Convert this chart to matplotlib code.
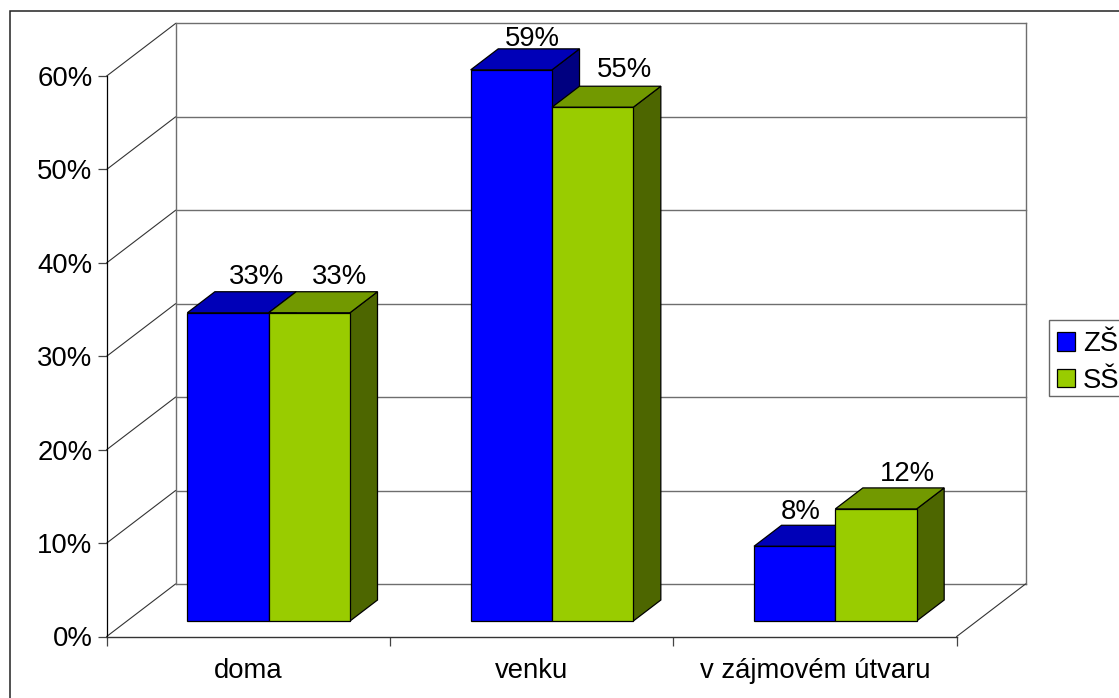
import matplotlib
matplotlib.use('Agg')
import matplotlib.pyplot as plt
from matplotlib.patches import Polygon, Rectangle, Patch

plt.rcParams['font.family'] = ['Liberation Sans', 'DejaVu Sans']

categories = ['doma', 'venku', 'v zájmovém útvaru']
zs_values = [0.33, 0.59, 0.08]
ss_values = [0.33, 0.55, 0.12]
y_ticks = [0, 0.1, 0.2, 0.3, 0.4, 0.5, 0.6]
y_labels = ['0%', '10%', '20%', '30%', '40%', '50%', '60%']

W, H = 1119, 698
FONT = 19.8

# oblique projection: a point at depth d (0 front, 1 back wall) gets shifted
DX = 68.8 / 283.3
DY = 0.0562
BAR_W = 0.287
BAR_D0 = 0.295
BAR_D1 = 0.695


def shift(x, y, d):
    return (x + DX * d, y + DY * d)


def bar3d(ax, x0, val, front, top, side):
    x1 = x0 + BAR_W
    face = [shift(x0, 0, BAR_D0), shift(x1, 0, BAR_D0), shift(x1, val, BAR_D0), shift(x0, val, BAR_D0)]
    tp = [shift(x0, val, BAR_D0), shift(x1, val, BAR_D0), shift(x1, val, BAR_D1), shift(x0, val, BAR_D1)]
    sd = [shift(x1, 0, BAR_D0), shift(x1, 0, BAR_D1), shift(x1, val, BAR_D1), shift(x1, val, BAR_D0)]
    for pts, col in [(sd, side), (tp, top), (face, front)]:
        ax.add_patch(Polygon(pts, closed=True, facecolor=col, edgecolor='black',
                             linewidth=0.9, clip_on=False, zorder=3))


fig = plt.figure(figsize=(W / 100, H / 100), dpi=100, facecolor='white')
ax = fig.add_axes([106.7 / W, (H - 636.5) / H, 850 / W, 560.5 / H])
ax.set_xlim(0, 3)
ax.set_ylim(0, 0.6)
ax.patch.set_alpha(0)

# chart frame, runs off the image on the right and at the bottom
fig.add_artist(Rectangle((10 / W, -0.1), 1.2, (H - 11) / H + 0.1, transform=fig.transFigure,
                         fill=False, edgecolor='#222222', linewidth=1.1))

# walls and floor
wall = '#6e6e6e'
for v in y_ticks:
    a = shift(0, v, 1)
    b = shift(3, v, 1)
    ax.plot([a[0], b[0]], [a[1], b[1]], color=wall, lw=1.0, clip_on=False, zorder=1)
    ax.plot([0, a[0]], [v, a[1]], color='#333333', lw=0.8, clip_on=False, zorder=1)
for xv in [0, 3]:
    a = shift(xv, 0, 1)
    b = shift(xv, 0.6, 1)
    ax.plot([a[0], b[0]], [a[1], b[1]], color=wall, lw=1.0, clip_on=False, zorder=1)
a = shift(3, 0, 1)
ax.plot([3, a[0]], [0, a[1]], color='#333333', lw=0.8, clip_on=False, zorder=1)

# bars
nudge_zs = [(28.5, 29), (21, 24), (6, 27)]
nudge_ss = [(30, 29), (32, 30.5), (31, 28)]
for i in range(len(categories)):
    center = i + 0.5
    x0 = center - BAR_W
    bar3d(ax, x0, zs_values[i], '#0000ff', '#0000b8', '#000080')
    bar3d(ax, center, ss_values[i], '#99cc00', '#729900', '#4d6600')
    for xc, val, nd in [(x0 + BAR_W / 2, zs_values[i], nudge_zs[i]),
                        (center + BAR_W / 2, ss_values[i], nudge_ss[i])]:
        ax.annotate('%d%%' % round(val * 100), xy=shift(xc, val, BAR_D0),
                    xytext=(nd[0] * 0.72, nd[1] * 0.72), textcoords='offset points',
                    ha='center', va='baseline', fontsize=FONT, color='black',
                    annotation_clip=False, zorder=4)

# axes
for s in ['top', 'right']:
    ax.spines[s].set_visible(False)
ax.spines['left'].set_linewidth(0.9)
ax.spines['bottom'].set_linewidth(1.0)
ax.spines['bottom'].set_color('#333333')
ax.set_yticks(y_ticks)
ax.set_yticklabels(y_labels, fontsize=FONT)
ax.set_xticks([0, 1, 2, 3])
ax.set_xticklabels([])
ax.set_xticks([0.5, 1.5, 2.5], minor=True)
ax.set_xticklabels(categories, minor=True, fontsize=FONT)
ax.tick_params(axis='x', which='major', length=6.3, width=0.9, color='#444444')
ax.tick_params(axis='x', which='minor', length=0, pad=15.5)
ax.tick_params(axis='y', length=6.3, width=0.9, color='#444444', pad=4)

# legend box is drawn apart, it is cut by the image edge
fig.add_artist(Rectangle((1048.7 / W, (H - 395.7) / H), 0.1, 75.7 / H, transform=fig.transFigure,
                         facecolor='white', edgecolor='#666666', linewidth=1.0))
handles = [Patch(facecolor='#0000ff', edgecolor='black', linewidth=0.9, label='ZŠ'),
           Patch(facecolor='#99cc00', edgecolor='black', linewidth=0.9, label='SŠ')]
leg = fig.legend(handles=handles, loc='upper left', bbox_to_anchor=(1048.7 / W, (H - 323) / H),
                 fontsize=FONT, frameon=False, borderaxespad=0, borderpad=0.3,
                 handlelength=0.67, handleheight=0.67, handletextpad=0.28, labelspacing=0.38)

fig.savefig('out.png', dpi=100)
